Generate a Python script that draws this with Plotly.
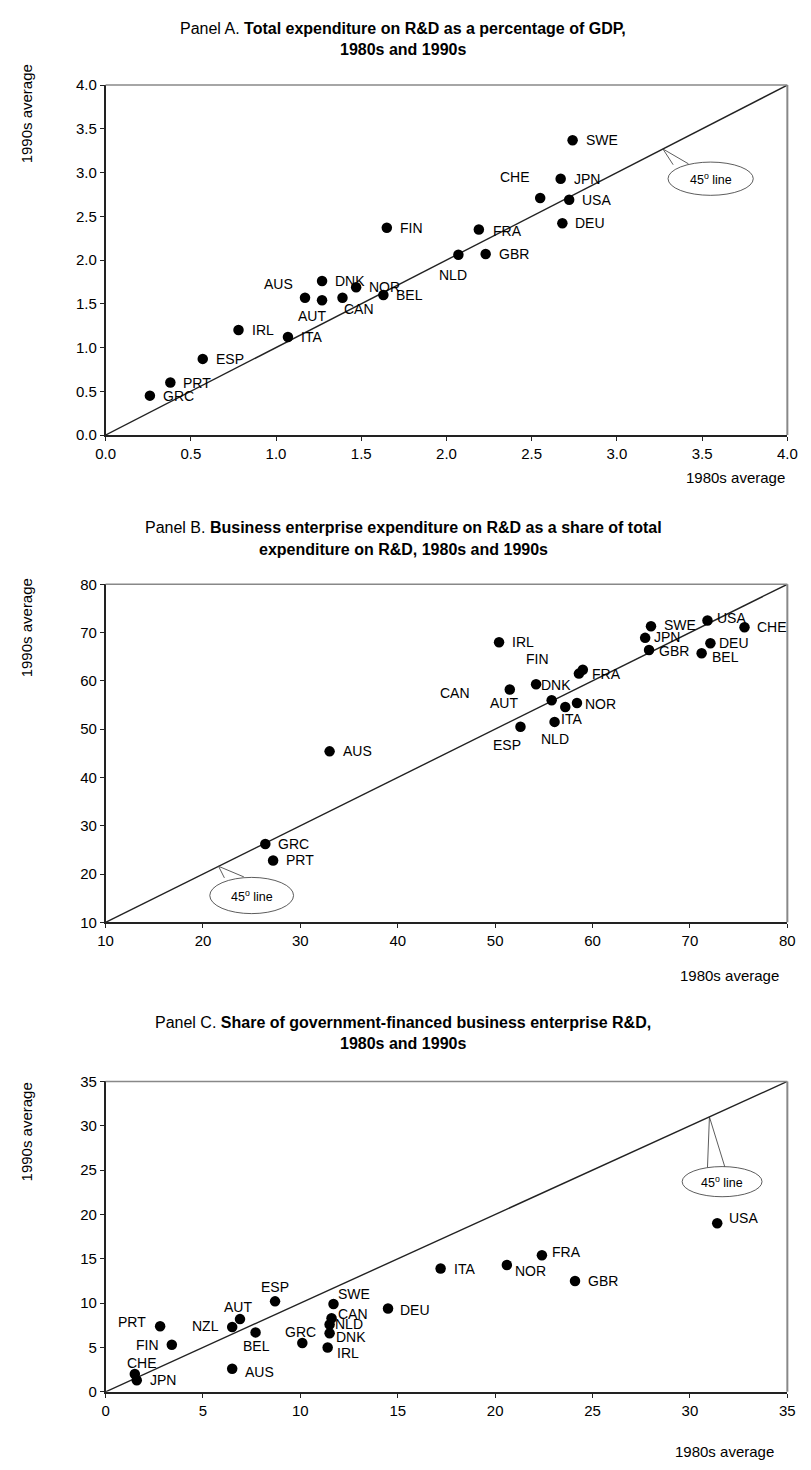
import plotly.graph_objects as go

W, H = 811, 1470

# ---------------- DATA ----------------
A_countries = ["SWE", "JPN", "CHE", "USA", "DEU", "FIN", "FRA", "NLD", "GBR", "DNK",
               "NOR", "AUS", "AUT", "CAN", "BEL", "IRL", "ITA", "ESP", "PRT", "GRC"]
A_1980s = [2.74, 2.67, 2.55, 2.72, 2.68, 1.65, 2.19, 2.07, 2.23, 1.27,
           1.47, 1.17, 1.27, 1.39, 1.63, 0.78, 1.07, 0.57, 0.38, 0.26]
A_1990s = [3.37, 2.93, 2.71, 2.69, 2.42, 2.37, 2.35, 2.06, 2.07, 1.76,
           1.69, 1.57, 1.54, 1.57, 1.60, 1.20, 1.12, 0.87, 0.60, 0.45]

B_countries = ["IRL", "SWE", "USA", "CHE", "JPN", "DEU", "GBR", "BEL", "FIN", "FRA",
               "DNK", "CAN", "AUT", "NOR", "ITA", "NLD", "ESP", "AUS", "GRC", "PRT"]
B_1980s = [50.4, 66.0, 71.8, 75.6, 65.4, 72.1, 65.8, 71.2, 59.0, 58.6,
           54.2, 51.5, 55.8, 58.4, 57.2, 56.1, 52.6, 33.0, 26.4, 27.2]
B_1990s = [68.0, 71.3, 72.5, 71.1, 68.9, 67.8, 66.4, 65.7, 62.3, 61.5,
           59.3, 58.2, 56.0, 55.4, 54.6, 51.5, 50.5, 45.4, 26.2, 22.8]

C_countries = ["USA", "FRA", "NOR", "ITA", "GBR", "ESP", "SWE", "DEU", "AUT", "CAN",
               "NZL", "PRT", "NLD", "BEL", "DNK", "GRC", "FIN", "IRL", "AUS", "CHE", "JPN"]
C_1980s = [31.4, 22.4, 20.6, 17.2, 24.1, 8.7, 11.7, 14.5, 6.9, 11.6,
           6.5, 2.8, 11.5, 7.7, 11.5, 10.1, 3.4, 11.4, 6.5, 1.5, 1.6]
C_1990s = [19.0, 15.4, 14.3, 13.9, 12.5, 10.2, 9.9, 9.4, 8.2, 8.3,
           7.3, 7.4, 7.6, 6.7, 6.6, 5.5, 5.3, 5.0, 2.6, 2.0, 1.3]

A_ticks = [0.0, 0.5, 1.0, 1.5, 2.0, 2.5, 3.0, 3.5, 4.0]
B_ticks = [10, 20, 30, 40, 50, 60, 70, 80]
C_ticks = [0, 5, 10, 15, 20, 25, 30, 35]

# ---------------- STYLE / LAYOUT ----------------
FONT = "Liberation Sans, Arial, sans-serif"
TICK_SIZE = 15
LABEL_SIZE = 14
TITLE_SIZE = 16

# label placement: (xanchor, dx px, dy px up); default right of point
A_lab = {"CHE": ("right", -8, 21), "NLD": ("center", -5, -20), "AUS": ("right", -10, 14),
         "AUT": ("center", -10, -16), "CAN": ("left", 0, -11), "FRA": ("left", 12, -2)}
B_lab = {"FIN": ("center", -45, 11), "DNK": ("left", 3, -1), "CAN": ("center", -55, -3),
         "AUT": ("center", -48, -3), "NOR": ("left", 6, -1), "ITA": ("center", 6, -12),
         "NLD": ("center", 0, -17), "ESP": ("center", -13, -18), "BEL": ("left", 8, -4),
         "JPN": ("left", 7, 1), "USA": ("left", 8, 2), "GBR": ("left", 8, -1),
         "DEU": ("left", 7, 0), "SWE": ("left", 11, 1)}
C_lab = {"USA": ("left", 10, 5), "FRA": ("left", 8, 3), "NOR": ("left", 6, -6),
         "ESP": ("center", 0, 14), "SWE": ("left", 3, 10), "AUT": ("center", -2, 12),
         "CAN": ("left", 4, 4), "NZL": ("right", -11, 1), "PRT": ("right", -12, 4),
         "NLD": ("left", 3, 0), "BEL": ("center", 1, -14), "DNK": ("left", 4, -4),
         "GRC": ("center", -2, 11), "FIN": ("right", -11, 0), "IRL": ("left", 7, -6),
         "AUS": ("left", 11, -3), "CHE": ("center", 7, 11), "JPN": ("left", 11, 0),
         "DEU": ("left", 10, -2)}

X0, X1 = 98, 797
panels = [
    dict(top=77, bot=431, rng=[0, 4], ticks=A_ticks, fmt="%.1f", xs=A_1980s, ys=A_1990s,
         names=A_countries, lab=A_lab, title_y=(20, 41),
         main="Panel A. ", bold="Total expenditure on R&D as a percentage of GDP,", bold2="1980s and 1990s",
         ytitle_y=106, xtitle=(797, 474),
         ell=(3.3, 3.8, 2.74, 3.12), tip=3.27, base=((3.33, 3.09), (3.42, 3.10))),
    dict(top=582, bot=924, rng=[10, 80], ticks=B_ticks, fmt="%d", xs=B_1980s, ys=B_1990s,
         names=B_countries, lab=B_lab, title_y=(525, 547),
         main="Panel B. ", bold="Business enterprise expenditure on R&D as a share of total",
         bold2="expenditure on R&D, 1980s and 1990s",
         ytitle_y=626, xtitle=(790, 978),
         ell=(20.7, 29.3, 11.8, 19.3), tip=21.6, base=((22.2, 19.2), (24.2, 19.4))),
    dict(top=1085, bot=1399, rng=[0, 35], ticks=C_ticks, fmt="%d", xs=C_1980s, ys=C_1990s,
         names=C_countries, lab=C_lab, title_y=(1025, 1047),
         main="Panel C. ", bold="Share of government-financed business enterprise R&D,",
         bold2="1980s and 1990s",
         ytitle_y=1136, xtitle=(785, 1459),
         ell=(29.6, 33.7, 22.0, 25.4), tip=31.0, base=((30.9, 25.3), (31.8, 25.3))),
]

def py(px):
    return 1 - px / H

def pxx(px):
    return px / W

fig = go.Figure()
layout = dict(width=W, height=H, margin=dict(l=0, r=0, t=0, b=0),
              paper_bgcolor="white", plot_bgcolor="white", showlegend=False,
              font=dict(family=FONT, size=12, color="black"))
annotations = []
shapes = []

for i, p in enumerate(panels):
    n = "" if i == 0 else str(i + 1)
    xa, ya = "x" + n, "y" + n
    lo, hi = p["rng"]
    # 45 degree line
    fig.add_trace(go.Scatter(x=[lo, hi], y=[lo, hi], mode="lines", xaxis=xa, yaxis=ya,
                             line=dict(color="#222", width=1.4), hoverinfo="skip"))
    # callout pointer + ellipse
    ex0, ex1, ey0, ey1 = p["ell"]
    (b1x, b1y), (b2x, b2y) = p["base"]
    t = p["tip"]
    shapes.append(dict(type="path", xref=xa, yref=ya,
                       path=f"M {b1x} {b1y} L {t} {t} L {b2x} {b2y}",
                       line=dict(color="#333", width=0.8), fillcolor="white"))
    shapes.append(dict(type="circle", xref=xa, yref=ya, x0=ex0, x1=ex1, y0=ey0, y1=ey1,
                       line=dict(color="#333", width=0.8), fillcolor="white"))
    annotations.append(dict(x=(ex0 + ex1) / 2, y=(ey0 + ey1) / 2, xref=xa, yref=ya,
                            text="45<sup>o</sup> line", showarrow=False,
                            font=dict(size=12.5)))
    # points
    fig.add_trace(go.Scatter(x=p["xs"], y=p["ys"], mode="markers", xaxis=xa, yaxis=ya,
                             marker=dict(color="black", size=10.5, line=dict(width=0)),
                             text=p["names"], hoverinfo="text+x+y"))
    for c, xv, yv in zip(p["names"], p["xs"], p["ys"]):
        anc, dx, dy = p["lab"].get(c, ("left", 11, 0))
        annotations.append(dict(x=xv, y=yv, xref=xa, yref=ya, text=c, showarrow=False,
                                xanchor=anc, yanchor="middle", xshift=dx, yshift=dy,
                                font=dict(size=LABEL_SIZE)))
    # axes
    dom_x = [pxx(X0), pxx(X1)]
    dom_y = [py(p["bot"]), py(p["top"])]
    axcommon = dict(showgrid=False, zeroline=False, showline=True, linecolor="#222",
                    linewidth=1.5, ticks="outside", ticklen=4, tickwidth=1, tickcolor="#222",
                    tickfont=dict(size=TICK_SIZE, color="black"),
                    range=[lo, hi], tickvals=p["ticks"],
                    ticktext=[p["fmt"] % v for v in p["ticks"]], fixedrange=True)
    layout["xaxis" + n] = dict(domain=dom_x, anchor=ya, **axcommon)
    layout["yaxis" + n] = dict(domain=dom_y, anchor=xa, **axcommon)
    # gray frame on top and right
    shapes.append(dict(type="line", xref="paper", yref="paper", x0=dom_x[0], x1=dom_x[1],
                       y0=dom_y[1], y1=dom_y[1], line=dict(color="#888", width=1.5)))
    shapes.append(dict(type="line", xref="paper", yref="paper", x0=dom_x[1], x1=dom_x[1],
                       y0=dom_y[0], y1=dom_y[1], line=dict(color="#888", width=2)))
    # titles
    annotations.append(dict(x=0.497, y=py(p["title_y"][0]), xref="paper", yref="paper",
                            text=p["main"] + "<b>" + p["bold"] + "</b>", showarrow=False,
                            yanchor="middle", font=dict(size=TITLE_SIZE)))
    annotations.append(dict(x=0.497, y=py(p["title_y"][1]), xref="paper", yref="paper",
                            text="<b>" + p["bold2"] + "</b>", showarrow=False,
                            yanchor="middle", font=dict(size=TITLE_SIZE)))
    annotations.append(dict(x=pxx(17), y=py(p["ytitle_y"]), xref="paper", yref="paper",
                            text="1990s average", textangle=-90, showarrow=False,
                            xanchor="center", yanchor="middle", font=dict(size=TICK_SIZE)))
    annotations.append(dict(x=pxx(p["xtitle"][0]), y=py(p["xtitle"][1]), xref="paper",
                            yref="paper", text="1980s average", showarrow=False,
                            xanchor="right", yanchor="middle",
                            font=dict(size=TICK_SIZE)))

layout["annotations"] = annotations
layout["shapes"] = shapes
fig.update_layout(**layout)
fig.write_html("out.html")
